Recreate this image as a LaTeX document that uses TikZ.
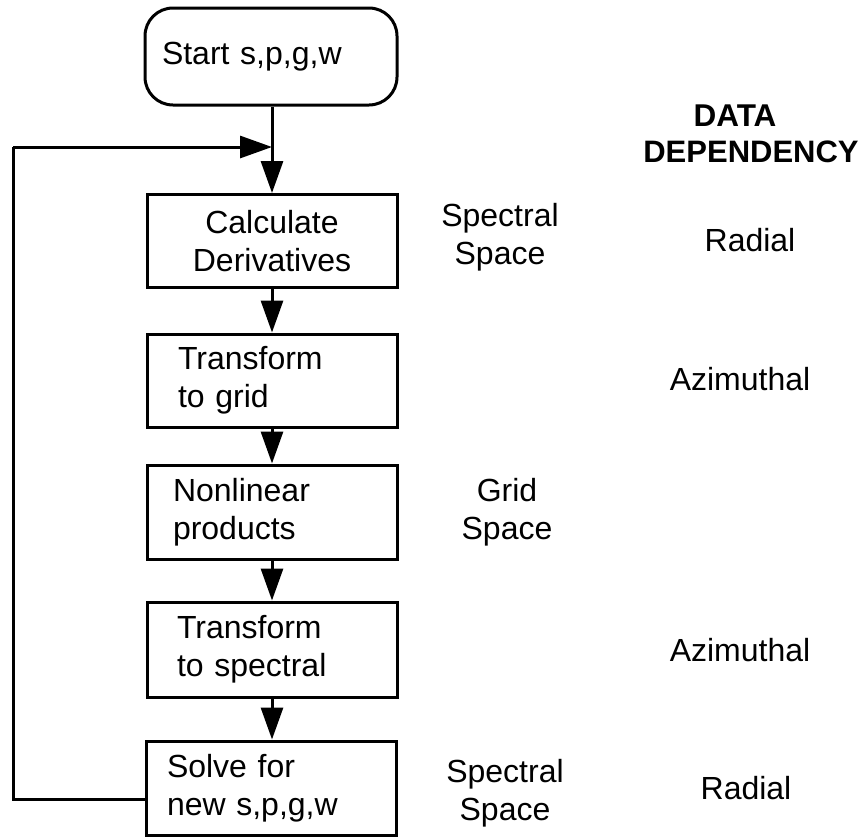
\documentclass[tikz,border=0pt]{standalone}
\usepackage{fontspec}
\setmainfont{Liberation Sans}
\usetikzlibrary{arrows.meta}
\begin{document}
\begin{tikzpicture}[x=1pt,y=-1pt,
  txt/.style={font=\fontsize{32}{38}\selectfont, inner sep=0pt},
  box/.style={draw, line width=3pt, minimum width=250pt, minimum height=93pt,
              font=\fontsize{32}{38}\selectfont, align=left, inner ysep=0pt},
  flow/.style={line width=3pt, -{Triangle[length=32pt,width=22pt]}},
  line/.style={line width=3pt}]
\useasboundingbox (0,0) rectangle (866,839);

\node[box, rounded corners=28pt, minimum width=252pt, minimum height=97pt,
      text width=218pt, inner xsep=17pt] (start) at (271,56.5) {Start s,p,g,w};
\node[box, align=center, text width=200pt, inner xsep=25pt] (calc) at (272,241) {Calculate\\Derivatives};
\node[box, text width=188pt, inner xsep=31pt] (grid) at (272,380.5) {Transform\\to grid};
\node[box, minimum height=94pt, text width=198pt, inner xsep=26pt] (nonlin) at (272,512) {Nonlinear\\products};
\node[box, minimum height=95pt, text width=190pt, inner xsep=30pt] (spec) at (272,649.5) {Transform\\to spectral};
\node[box, minimum height=94pt, text width=208pt, inner xsep=21pt] (solve) at (271,788) {Solve for\\new s,p,g,w};

\coordinate (join) at (272,147);
\coordinate (fbl) at (13,799);

\draw[line] (start.south -| join) -- (join);
\draw[flow] (join) -- (calc.north -| join);
\draw[flow] (calc.south -| join) -- (grid.north -| join);
\draw[flow] (grid.south -| join) -- (nonlin.north -| join);
\draw[flow] (nonlin.south -| join) -- (spec.north -| join);
\draw[flow] (spec.south -| join) -- (solve.north -| join);
\draw[line] (solve.west |- fbl) -- (fbl) -- (fbl |- join);
\draw[flow] (fbl |- join) -- (join);

\node[txt, align=center] (ss1) at (500,237) {Spectral\\Space};
\node[txt, align=center] (gs) at (507,512) {Grid\\Space};
\node[txt, align=center] (ss2) at (505,793) {Spectral\\Space};

\node[txt, font=\fontsize{31.5}{38}\selectfont\bfseries] (data) at (735,116) {DATA};
\node[txt, font=\fontsize{31}{38}\selectfont\bfseries] (dep) at (751,152) {DEPENDENCY};

\node[txt] (r1) at (750,240) {Radial};
\node[txt] (a1) at (740,379) {Azimuthal};
\node[txt] (a2) at (740,650) {Azimuthal};
\node[txt] (r2) at (746,788) {Radial};
\end{tikzpicture}
\end{document}
